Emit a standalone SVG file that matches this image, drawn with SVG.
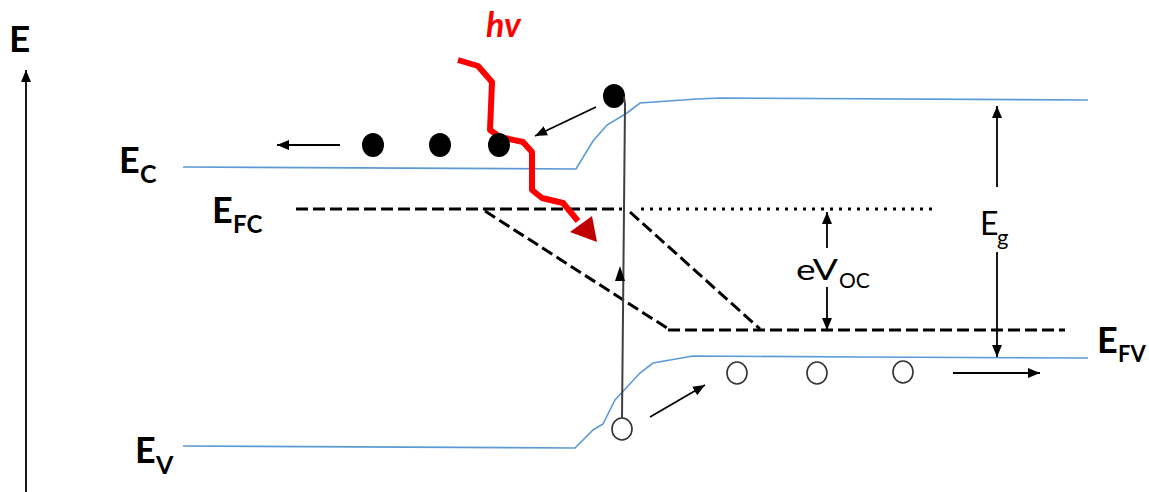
<svg xmlns="http://www.w3.org/2000/svg" width="1149" height="492" viewBox="0 0 1149 492">
<style>
.lbl{font-family:Lato,"Liberation Sans",sans-serif;font-weight:bold;fill:#000}
.reg{font-family:Lato,"Liberation Sans",sans-serif;fill:#000}
.band{fill:none;stroke:#5b9bd5;stroke-width:1.6}
.dash{fill:none;stroke:#000;stroke-width:3;stroke-dasharray:12 5}
.dot{fill:none;stroke:#000;stroke-width:3;stroke-dasharray:3 6}
.arr{fill:none;stroke:#000;stroke-width:1.8}
.el{fill:#000}
.hole{fill:#fff;stroke:#333;stroke-width:1.6}
</style>
<defs>
<marker id="ah" markerUnits="userSpaceOnUse" markerWidth="12" markerHeight="10" refX="12" refY="5" orient="auto">
<path d="M0,0 L12,5 L0,10 z" fill="#000"/>
</marker>
</defs>
<g id="axis">
<line x1="26" y1="492" x2="26" y2="70" class="arr" marker-end="url(#ah)"/>
<text x="9" y="52" class="lbl" font-size="37">E</text>
</g>
<g id="conduction-band">
<path class="band" d="M183,167 L576,169 L593,141 L607,125 L627,113 L640,103 L697,99 L720,98 L1088,100"/>
<text x="119" y="173" class="lbl" font-size="36">E</text>
<text x="140" y="183" class="lbl" font-size="25">C</text>
</g>
<g id="valence-band">
<path class="band" d="M183,446 L575,448 L593,430 L603,424 L615,400 L627,387 L640,373 L653,363 L670,360 L693,356 L860,357 L1088,358"/>
<text x="135" y="463" class="lbl" font-size="36">E</text>
<text x="156" y="474" class="lbl" font-size="25">V</text>
</g>
<g id="fermi-n">
<path class="dash" d="M296,209 H622"/>
<path class="dot" d="M641,209 H935"/>
<text x="212" y="223" class="lbl" font-size="36">E</text>
<text x="233" y="233" class="lbl" font-size="24">FC</text>
</g>
<g id="quasi-fermi">
<path class="dash" d="M485,211 L670,330"/>
<path class="dash" d="M630,212 L760,329"/>
</g>
<g id="fermi-p">
<path class="dash" d="M668,330 H1065"/>
<text x="1097" y="353" class="lbl" font-size="36">E</text>
<text x="1118" y="362" class="lbl" font-size="22">FV</text>
</g>
<g id="photon">
<polyline points="458,60 478,66 492,82 490,130 500,137 523,142 532,152 532,190 542,198 563,203 578,221" fill="none" stroke="#ff0000" stroke-width="6" stroke-linejoin="round"/>
<polygon points="597,242 570,232 592,216" fill="#c00000"/>
<text x="486" y="37" font-family="Lato,'Liberation Sans',sans-serif" font-weight="bold" font-style="italic" font-size="34" fill="#ff0000">hv</text>
</g>
<g id="electrons">
<ellipse class="el" cx="373" cy="145" rx="11" ry="12"/>
<ellipse class="el" cx="440" cy="145" rx="11" ry="12"/>
<ellipse class="el" cx="499" cy="145" rx="11" ry="12"/>
<ellipse class="el" cx="614" cy="96" rx="11" ry="12"/>
</g>
<g id="holes">
<ellipse class="hole" cx="622" cy="429" rx="10" ry="11"/>
<ellipse class="hole" cx="737" cy="373" rx="10" ry="11"/>
<ellipse class="hole" cx="817" cy="373" rx="10" ry="11"/>
<ellipse class="hole" cx="903" cy="372" rx="10" ry="11"/>
</g>
<g id="voc">
<text x="796" y="280" class="reg" font-size="28" textLength="42" lengthAdjust="spacingAndGlyphs">eV</text>
<text x="839" y="288" class="reg" font-size="21">OC</text>
</g>
<g id="eg">
<text x="980" y="235" class="reg" font-size="32">E</text>
<text x="997" y="245" class="reg" font-size="22">g</text>
</g>
<g id="connectors">
<line x1="340" y1="145" x2="277" y2="145" class="arr" marker-end="url(#ah)"/>
<line x1="596" y1="107" x2="535" y2="136" class="arr" marker-end="url(#ah)"/>
<path d="M624,97 L625,104 L622,418" fill="none" stroke="#404040" stroke-width="2"/>
<polygon points="620,266 615,281 625,281" fill="#000"/>
<line x1="650" y1="417" x2="705" y2="385" class="arr" marker-end="url(#ah)"/>
<line x1="953" y1="373" x2="1040" y2="373" class="arr" marker-end="url(#ah)"/>
<line x1="827" y1="248" x2="827" y2="212" class="arr" marker-end="url(#ah)"/>
<line x1="827" y1="287" x2="827" y2="330" class="arr" marker-end="url(#ah)"/>
<line x1="997" y1="187" x2="997" y2="106" class="arr" stroke="#444" marker-end="url(#ah)"/>
<line x1="997" y1="252" x2="997" y2="357" class="arr" stroke="#444" marker-end="url(#ah)"/>
</g>
</svg>
